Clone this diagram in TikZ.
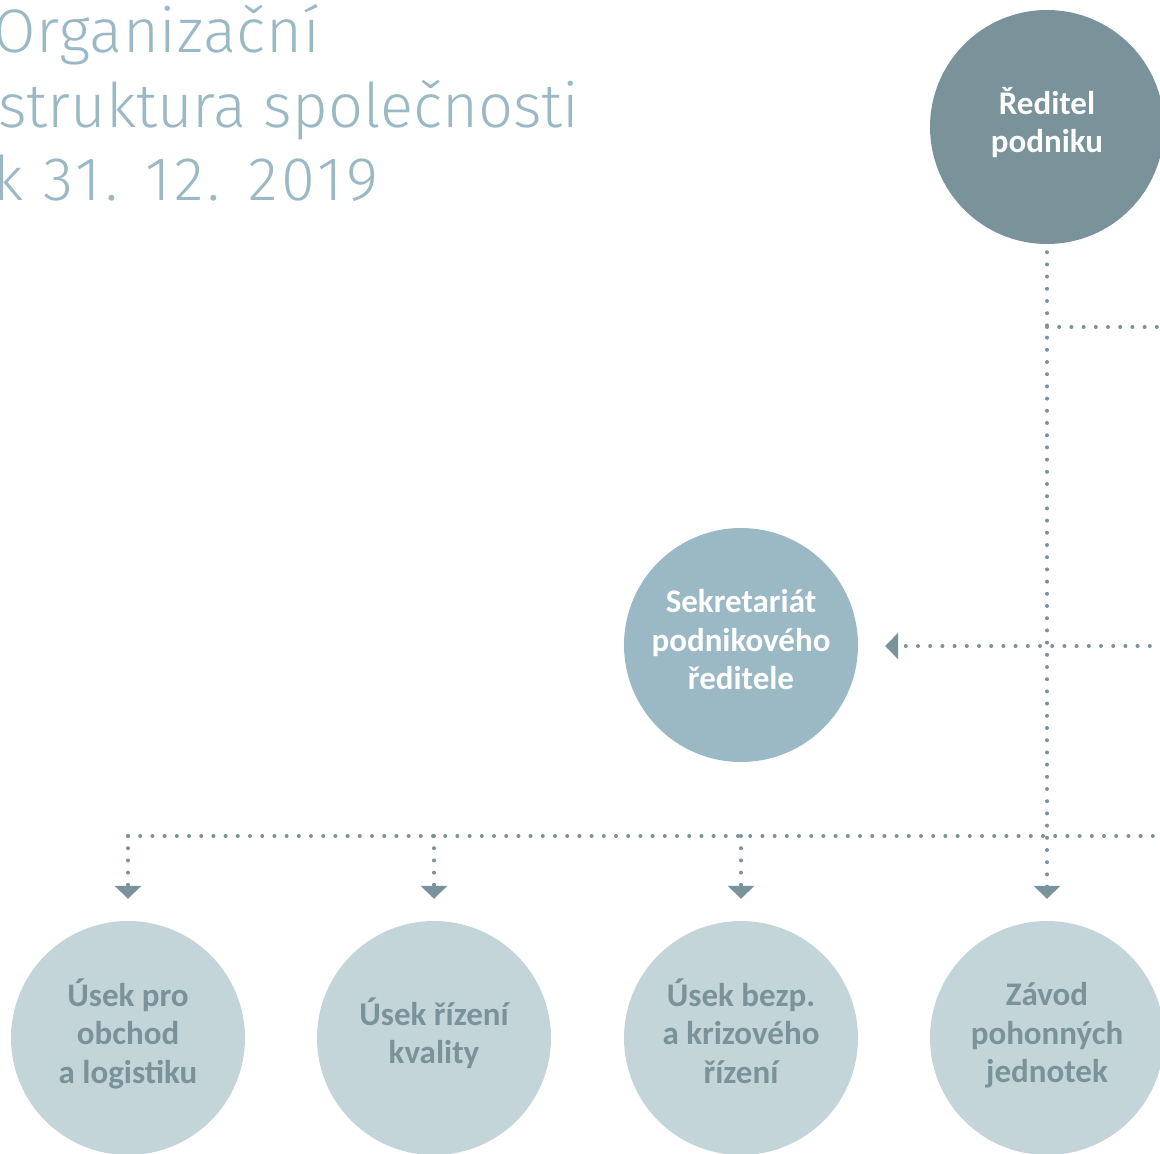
\documentclass[tikz,border=0pt]{standalone}
\usepackage{fontspec}
\usepackage{xcolor}
\usetikzlibrary{arrows.meta}
\setmainfont{Carlito}
\newfontfamily\titlefont{Fira Sans Light}

\definecolor{darkgrey}{HTML}{7A929A}
\definecolor{midblue}{HTML}{9AB9C4}
\definecolor{lightblue}{HTML}{C4D5DA}

% circle text: lines stacked, lifted a little above the centre
\newcommand\circtext[1]{\raisebox{0pt}[\height][\dimexpr\depth+3pt\relax]{%
  \begin{tabular}{@{}c@{}}#1\end{tabular}}}

\begin{document}
\begin{tikzpicture}[x=1pt,y=-1pt,
  circ/.style={circle,minimum size=234pt,inner sep=0pt,
    font=\bfseries\fontsize{33}{38.5}\selectfont},
  topcirc/.style={circ,fill=darkgrey,text=white},
  midcirc/.style={circ,fill=midblue,text=white},
  lowcirc/.style={circ,fill=lightblue,text=darkgrey},
  titleline/.style={anchor=base west,inner sep=0pt,text=midblue,
    font=\titlefont\fontsize{61.5}{74}\selectfont},
  dots/.style={darkgrey,line width=4pt,line cap=round,dash pattern=on 0pt off 12.2pt},
  tip/.style={-{Triangle[width=26pt,length=13pt]}}]
\useasboundingbox (0,0) rectangle (1160,1154);
\clip (0,0) rectangle (1160,1154);

% Title
\node[titleline] (title1) at (-7,52) {\addfontfeatures{LetterSpace=1.2}Organizační};
\node[titleline] (title2) at (-2,127) {struktura společnosti};
\node[titleline] (title3) at (-7,200) {\addfontfeatures{LetterSpace=6}k 31. 12. 2019};

% Director
\node[topcirc] (reditel) at (1047,127) {\circtext{Ředitel\\podniku}};

% Secretariat
\node[midcirc] (sekretariat) at (741,645) {\circtext{Sekretariát\\podnikového\\ředitele}};

% Departments
\node[lowcirc] (obchod) at (128,1038) {\circtext{Úsek pro\\obchod\\a logistiku}};
\node[lowcirc] (kvalita) at (434,1038) {\circtext{Úsek řízení\\kvality}};
\node[lowcirc] (bezpecnost) at (741,1038) {\circtext{Úsek bezp.\\a krizového\\řízení}};
\node[lowcirc] (zavod) at (1047,1038) {\circtext{Závod\\pohonných\\jednotek}};

% Junctions and free ends
\coordinate (j1) at (1047,327);
\coordinate (e1) at (1162,327);
\coordinate (e2) at (1162,646);
\coordinate (bus) at (128,836);
\coordinate (e3) at (1162,836);

% Connectors
\draw[dots,tip,shorten <=8pt,shorten >=22pt] (reditel) -- (zavod);
\draw[dots] (j1) -- (e1);
\draw[dots,tip,shorten >=27pt] (e2) -- (sekretariat.east |- e2);
\draw[dots] (bus) -- (e3);
\foreach \n in {obchod,kvalita,bezpecnost}
  \draw[dots,tip,shorten >=22pt] (\n |- bus) -- (\n);

\end{tikzpicture}
\end{document}
